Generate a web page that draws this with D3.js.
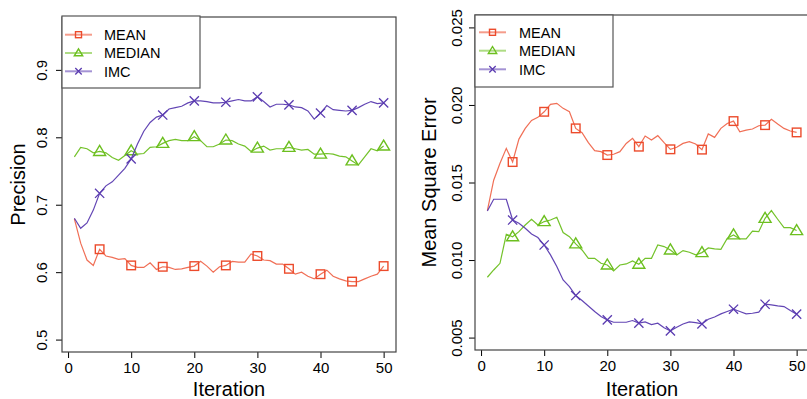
<!DOCTYPE html>
<html>
<head>
<meta charset="utf-8">
<script src="https://cdn.jsdelivr.net/npm/d3@7"></script>
<style>
  body { margin: 0; background: #fff; }
  text { font-family: "Liberation Sans", Arial, sans-serif; fill: #000; }
</style>
</head>
<body>
<div id="chart"></div>
<script>
// x values
var iteration = [1, 2, 3, 4, 5, 6, 7, 8, 9, 10, 11, 12, 13, 14, 15, 16, 17, 18, 19, 20,
  21, 22, 23, 24, 25, 26, 27, 28, 29, 30, 31, 32, 33, 34, 35, 36, 37, 38, 39, 40,
  41, 42, 43, 44, 45, 46, 47, 48, 49, 50];

// left panel: precision
var precMean = [0.679, 0.643, 0.618, 0.610, 0.634, 0.624, 0.622, 0.619, 0.620, 0.610,
  0.607, 0.607, 0.614, 0.604, 0.608, 0.607, 0.604, 0.605, 0.607, 0.609,
  0.616, 0.609, 0.600, 0.608, 0.610, 0.616, 0.615, 0.615, 0.627, 0.624,
  0.618, 0.617, 0.612, 0.612, 0.605, 0.597, 0.600, 0.594, 0.590, 0.597,
  0.603, 0.594, 0.590, 0.587, 0.586, 0.586, 0.590, 0.594, 0.597, 0.609];
var precMedian = [0.771, 0.785, 0.783, 0.777, 0.779, 0.777, 0.770, 0.766, 0.773, 0.780,
  0.775, 0.776, 0.785, 0.786, 0.791, 0.795, 0.797, 0.795, 0.795, 0.801,
  0.795, 0.786, 0.786, 0.790, 0.796, 0.795, 0.790, 0.787, 0.779, 0.784,
  0.787, 0.781, 0.783, 0.783, 0.785, 0.783, 0.781, 0.782, 0.775, 0.775,
  0.776, 0.775, 0.772, 0.771, 0.765, 0.759, 0.771, 0.783, 0.780, 0.787];
var precImc = [0.680, 0.665, 0.673, 0.692, 0.717, 0.728, 0.734, 0.744, 0.754, 0.768,
  0.790, 0.809, 0.822, 0.830, 0.833, 0.842, 0.844, 0.846, 0.851, 0.854,
  0.854, 0.853, 0.851, 0.851, 0.852, 0.854, 0.856, 0.854, 0.854, 0.860,
  0.853, 0.845, 0.849, 0.849, 0.848, 0.845, 0.844, 0.839, 0.827, 0.836,
  0.847, 0.841, 0.840, 0.839, 0.840, 0.844, 0.849, 0.853, 0.850, 0.851];

// right panel: mean square error
var mseMean = [0.01318, 0.01515, 0.01624, 0.01720, 0.01632, 0.01780, 0.01849, 0.01900, 0.01920, 0.01956,
  0.02004, 0.02010, 0.01978, 0.01956, 0.01849, 0.01821, 0.01757, 0.01705, 0.01699, 0.01677,
  0.01682, 0.01699, 0.01752, 0.01785, 0.01731, 0.01800, 0.01774, 0.01802, 0.01757, 0.01714,
  0.01727, 0.01752, 0.01763, 0.01748, 0.01712, 0.01813, 0.01791, 0.01849, 0.01881, 0.01896,
  0.01827, 0.01838, 0.01845, 0.01866, 0.01870, 0.01907, 0.01877, 0.01849, 0.01832, 0.01823];
var mseMedian = [0.00889, 0.00936, 0.00979, 0.01166, 0.01150, 0.01183, 0.01226, 0.01263, 0.01226, 0.01248,
  0.01258, 0.01276, 0.01177, 0.01151, 0.01104, 0.01065, 0.01011, 0.01011, 0.00979, 0.00968,
  0.00930, 0.00968, 0.00975, 0.00994, 0.00973, 0.01011, 0.01011, 0.01097, 0.01087, 0.01065,
  0.01033, 0.01061, 0.01050, 0.01033, 0.01048, 0.01078, 0.01072, 0.01069, 0.01140, 0.01162,
  0.01136, 0.01136, 0.01187, 0.01183, 0.01269, 0.01319, 0.01263, 0.01209, 0.01209, 0.01190];
var mseImc = [0.01316, 0.01392, 0.01392, 0.01392, 0.01258, 0.01237, 0.01205, 0.01168, 0.01145, 0.01097,
  0.01033, 0.00958, 0.00872, 0.00829, 0.00771, 0.00739, 0.00704, 0.00668, 0.00636, 0.00614,
  0.00599, 0.00599, 0.00599, 0.00610, 0.00593, 0.00601, 0.00584, 0.00593, 0.00563, 0.00543,
  0.00567, 0.00588, 0.00601, 0.00597, 0.00588, 0.00618, 0.00633, 0.00653, 0.00668, 0.00683,
  0.00668, 0.00653, 0.00657, 0.00664, 0.00715, 0.00711, 0.00704, 0.00700, 0.00674, 0.00651];

var seriesNames = ["MEAN", "MEDIAN", "IMC"];
var seriesColors = ["#ec4b2c", "#6cbf1f", "#5a3bb0"];
var seriesShapes = ["square", "triangle", "cross"];

var iterTicks = [0, 10, 20, 30, 40, 50];
var precTicks = [0.5, 0.6, 0.7, 0.8, 0.9];
var mseTicks = [0.005, 0.010, 0.015, 0.020, 0.025];

var WIDTH = 807, HEIGHT = 399;

var svg = d3.select("#chart").append("svg")
  .attr("width", WIDTH)
  .attr("height", HEIGHT);

svg.append("rect")
  .attr("width", WIDTH)
  .attr("height", HEIGHT)
  .attr("fill", "#fff");

makePanel({
  left: 62, right: 396, top: 17, bottom: 352,
  yDomain: [0.4816, 0.9784],
  yTicks: precTicks,
  yFormat: d3.format(".1f"),
  yLabel: "Precision",
  yLabelX: 25,
  tickGap: 15,
  series: [precMean, precMedian, precImc],
  legend: {x: 62, y: 16, w: 138, h: 72, rows: [34.7, 53, 71.3], lineX: [65, 92], textX: 104}
});

makePanel({
  left: 475, right: 809, top: 15, bottom: 350,
  yDomain: [0.0042, 0.0258],
  yTicks: mseTicks,
  yFormat: d3.format(".3f"),
  yLabel: "Mean Square Error",
  yLabelX: 436,
  tickGap: 13.5,
  series: [mseMean, mseMedian, mseImc],
  legend: {x: 475, y: 15, w: 138, h: 72, rows: [32.3, 50.7, 69.3], lineX: [479, 506], textX: 519}
});

function drawMarker(g, shape, color, cx, cy, s) {
  if (shape === "square") {
    g.append("rect")
      .attr("x", cx - 4.3 * s).attr("y", cy - 4.3 * s)
      .attr("width", 8.6 * s).attr("height", 8.6 * s)
      .attr("fill", "none").attr("stroke", color).attr("stroke-width", 1.4);
  } else if (shape === "triangle") {
    var pts = [[cx, cy - 6 * s], [cx + 6 * s, cy + 4 * s], [cx - 6 * s, cy + 4 * s]];
    g.append("path")
      .attr("d", "M" + pts.join("L") + "Z")
      .attr("fill", "none").attr("stroke", color).attr("stroke-width", 1.4);
  } else {
    var r = 4.6 * s;
    g.append("path")
      .attr("d", "M" + (cx - r) + "," + (cy - r) + "L" + (cx + r) + "," + (cy + r) +
                 "M" + (cx - r) + "," + (cy + r) + "L" + (cx + r) + "," + (cy - r))
      .attr("fill", "none").attr("stroke", color).attr("stroke-width", 1.3);
  }
}

function makePanel(cfg) {
  var x = d3.scaleLinear().domain([-0.96, 51.96]).range([cfg.left, cfg.right]);
  var y = d3.scaleLinear().domain(cfg.yDomain).range([cfg.bottom, cfg.top]);

  var g = svg.append("g");

  // clip so the right panel is cut by the window the same way
  var xAxis = d3.axisBottom(x)
    .tickValues(iterTicks)
    .tickSize(6)
    .tickSizeOuter(0)
    .tickPadding(4.5);

  var gx = g.append("g")
    .attr("transform", "translate(0," + cfg.bottom + ")")
    .call(xAxis);
  gx.select(".domain").remove();
  gx.selectAll("text").style("font-size", "15px").attr("fill", "#000");
  gx.selectAll("line").attr("stroke", "#000");

  var yAxis = d3.axisLeft(y)
    .tickValues(cfg.yTicks)
    .tickFormat(cfg.yFormat)
    .tickSize(6)
    .tickSizeOuter(0);

  var gy = g.append("g")
    .attr("transform", "translate(" + cfg.left + ",0)")
    .call(yAxis);
  gy.select(".domain").remove();
  gy.selectAll("line").attr("stroke", "#000");
  gy.selectAll("text")
    .style("font-size", "15px")
    .attr("fill", "#000")
    .attr("transform", "rotate(-90)")
    .attr("x", 0)
    .attr("y", -cfg.tickGap)
    .attr("dy", 0)
    .style("text-anchor", "middle");

  // series lines and markers
  var line = d3.line()
    .x(function(d, i) { return x(iteration[i]); })
    .y(function(d) { return y(d); });

  cfg.series.forEach(function(vals, k) {
    g.append("path")
      .attr("d", line(vals))
      .attr("fill", "none")
      .attr("stroke", seriesColors[k])
      .attr("stroke-opacity", k === 0 ? 0.8 : 0.95)
      .attr("stroke-width", 1.2);
    vals.forEach(function(v, i) {
      if (iteration[i] % 5 === 0) {
        drawMarker(g, seriesShapes[k], seriesColors[k], x(iteration[i]), y(v), 1);
      }
    });
  });

  // plot box
  g.append("rect")
    .attr("x", cfg.left).attr("y", cfg.top)
    .attr("width", cfg.right - cfg.left).attr("height", cfg.bottom - cfg.top)
    .attr("fill", "none").attr("stroke", "#444").attr("stroke-width", 1.2);

  // legend
  var L = cfg.legend;
  var lg = g.append("g").attr("class", "legend");
  lg.append("rect")
    .attr("x", L.x).attr("y", L.y).attr("width", L.w).attr("height", L.h)
    .attr("fill", "#fff").attr("stroke", "#555").attr("stroke-width", 1.2);
  seriesNames.forEach(function(name, k) {
    var ry = L.rows[k];
    lg.append("line")
      .attr("x1", L.lineX[0]).attr("x2", L.lineX[1])
      .attr("y1", ry).attr("y2", ry)
      .attr("stroke", seriesColors[k]).attr("stroke-opacity", 0.55)
      .attr("stroke-width", 2);
    drawMarker(lg, seriesShapes[k], seriesColors[k], (L.lineX[0] + L.lineX[1]) / 2, ry, 0.7);
    lg.append("text")
      .attr("x", L.textX).attr("y", ry + 5.2)
      .style("font-size", "14.5px")
      .text(name);
  });

  // axis titles
  g.append("text")
    .attr("transform", "translate(" + cfg.yLabelX + "," + ((cfg.top + cfg.bottom) / 2) + ") rotate(-90)")
    .style("text-anchor", "middle")
    .style("font-size", "20px")
    .text(cfg.yLabel);

  g.append("text")
    .attr("x", (cfg.left + cfg.right) / 2)
    .attr("y", 396)
    .style("text-anchor", "middle")
    .style("font-size", "20px")
    .text("Iteration");
}
</script>
</body>
</html>
